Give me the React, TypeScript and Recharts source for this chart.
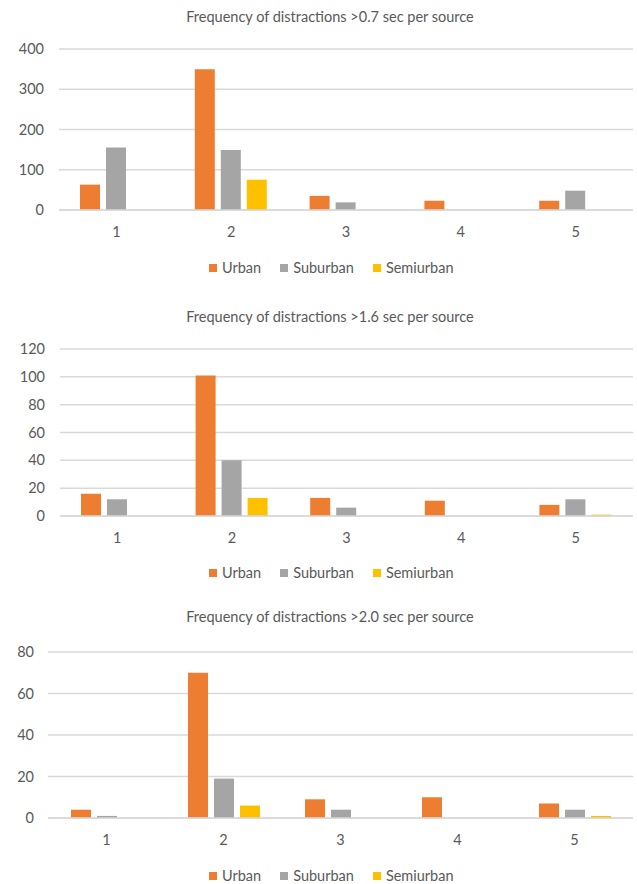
import { Bar, BarChart, CartesianGrid, XAxis, YAxis } from "recharts"

const SOURCES = ["1", "2", "3", "4", "5"]

const URBAN_07 = [63, 350, 35, 23, 23]
const SUBURBAN_07 = [155, 149, 19, 0, 48]
const SEMIURBAN_07 = [0, 75, 0, 0, 0]
const TICKS_07 = [0, 100, 200, 300, 400]

const URBAN_16 = [16, 101, 13, 11, 8]
const SUBURBAN_16 = [12, 40, 6, 0, 12]
const SEMIURBAN_16 = [0, 13, 0, 0, 1]
const TICKS_16 = [0, 20, 40, 60, 80, 100, 120]

const URBAN_20 = [4, 70, 9, 10, 7]
const SUBURBAN_20 = [1, 19, 4, 0, 4]
const SEMIURBAN_20 = [0, 6, 0, 0, 1]
const TICKS_20 = [0, 20, 40, 60, 80]

const TITLES = [
  "Frequency of distractions >0.7 sec per source",
  "Frequency of distractions >1.6 sec per source",
  "Frequency of distractions >2.0 sec per source",
]

const SERIES = [
  { key: "urban", name: "Urban", color: "#ED7D31" },
  { key: "suburban", name: "Suburban", color: "#A5A5A5" },
  { key: "semiurban", name: "Semiurban", color: "#FFC000" },
]

const TEXT = "#595959"
const FONT = "Lato, 'Open Sans', sans-serif"

function rows(u: number[], s: number[], m: number[]) {
  return SOURCES.map((src, i) => ({ src, urban: u[i], suburban: s[i], semiurban: m[i] }))
}

interface PanelProps {
  top: number
  title: string
  data: ReturnType<typeof rows>
  ticks: number[]
  height: number
  marginTop: number
  yWidth: number
  yMargin: number
  legendY: number
}

function Legend({ y }: { y: number }) {
  return (
    <div
      style={{
        position: "absolute",
        top: y - 9,
        left: 209,
        display: "flex",
        alignItems: "center",
        fontFamily: FONT,
        fontSize: 14.5,
        lineHeight: "18px",
        color: TEXT,
      }}
    >
      {SERIES.map((s) => (
        <div key={s.key} style={{ display: "flex", alignItems: "center", marginRight: 19 }}>
          <span style={{ width: 8, height: 8, background: s.color, marginRight: 5, display: "inline-block" }} />
          <span>{s.name}</span>
        </div>
      ))}
    </div>
  )
}

function Panel(p: PanelProps) {
  const max = p.ticks[p.ticks.length - 1]
  return (
    <div style={{ position: "absolute", top: p.top, left: 0, width: 637 }}>
      <div
        style={{
          position: "absolute",
          top: 8,
          left: 130,
          width: 400,
          textAlign: "center",
          fontFamily: FONT,
          fontSize: 14.5,
          lineHeight: "18px",
          color: TEXT,
        }}
      >
        {p.title}
      </div>
      <BarChart
        width={637}
        height={p.height}
        data={p.data}
        margin={{ top: p.marginTop, right: 4, left: 0, bottom: 0 }}
        barSize={20}
        barGap={6}
      >
        <CartesianGrid vertical={false} stroke="#D9D9D9" strokeWidth={1.5} />
        <XAxis
          dataKey="src"
          height={30}
          axisLine={{ stroke: "#D9D9D9", strokeWidth: 1.5 }}
          tickLine={false}
          tickMargin={11}
          tick={{ fill: TEXT, fontSize: 14.5, fontFamily: FONT }}
        />
        <YAxis
          width={p.yWidth}
          domain={[0, max]}
          ticks={p.ticks}
          interval={0}
          axisLine={false}
          tickLine={false}
          tickMargin={p.yMargin}
          tick={{ fill: TEXT, fontSize: 14.5, fontFamily: FONT }}
        />
        {SERIES.map((s) => (
          <Bar key={s.key} dataKey={s.key} name={s.name} fill={s.color} isAnimationActive={false} />
        ))}
      </BarChart>
      <Legend y={p.legendY} />
    </div>
  )
}

export default function App() {
  return (
    <div style={{ position: "relative", width: 637, height: 884, background: "#fff", overflow: "hidden" }}>
      <style>{"body{margin:0}"}</style>
      <Panel
        top={0}
        title={TITLES[0]}
        data={rows(URBAN_07, SUBURBAN_07, SEMIURBAN_07)}
        ticks={TICKS_07}
        height={240}
        marginTop={49}
        yWidth={59}
        yMargin={9}
        legendY={268}
      />
      <Panel
        top={300}
        title={TITLES[1]}
        data={rows(URBAN_16, SUBURBAN_16, SEMIURBAN_16)}
        ticks={TICKS_16}
        height={246}
        marginTop={49}
        yWidth={60}
        yMargin={9}
        legendY={273}
      />
      <Panel
        top={600}
        title={TITLES[2]}
        data={rows(URBAN_20, SUBURBAN_20, SEMIURBAN_20)}
        ticks={TICKS_20}
        height={248}
        marginTop={52}
        yWidth={48}
        yMargin={8}
        legendY={276}
      />
    </div>
  )
}
